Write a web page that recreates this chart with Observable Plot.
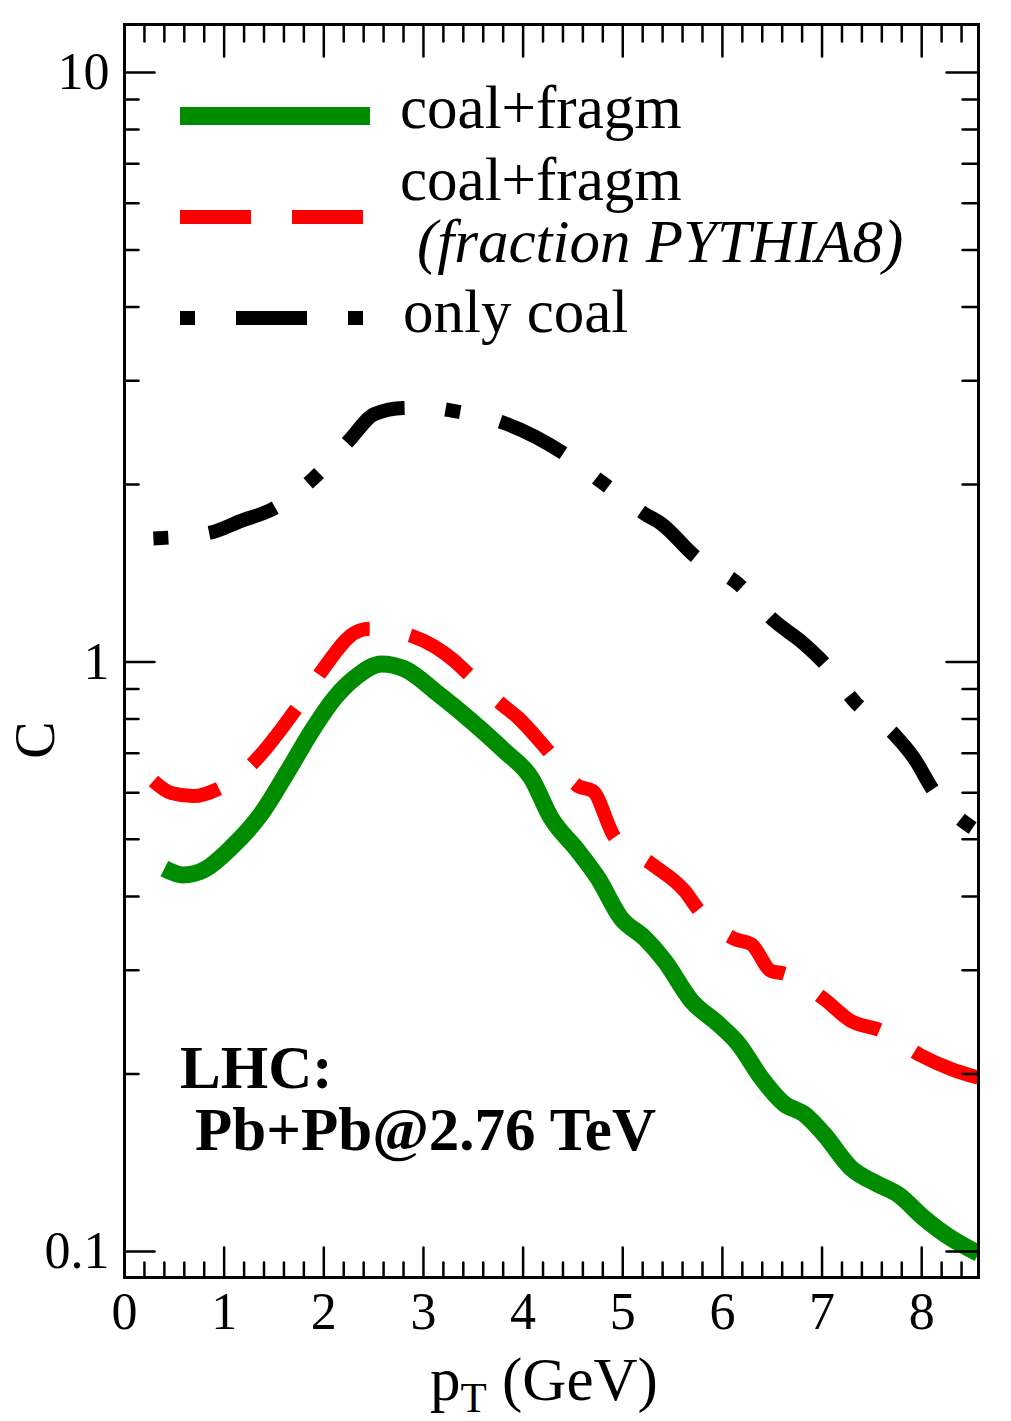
<!DOCTYPE html>
<html><head><meta charset="utf-8">
<script src="https://cdn.jsdelivr.net/npm/d3@7"></script>
<script src="https://cdn.jsdelivr.net/npm/@observablehq/plot@0.6"></script>
<style>
html,body{margin:0;padding:0;background:#fff;}
#chart{width:1011px;height:1421px;}
</style></head><body><div id="chart"></div>
<script>
// coal+fragm (green, solid)
const greenPt = [0.40,0.59,0.80,1.07,1.37,1.64,1.88,2.11,2.31,2.58,2.81,3.15,3.48,3.81,4.08,4.28,4.55,4.75,4.98,5.22,5.42,5.69,5.96,6.16,6.39,6.62,6.82,7.02,7.29,7.56,7.76,8.02,8.29,8.57];
const greenC  = [0.446,0.435,0.444,0.484,0.552,0.653,0.764,0.869,0.939,0.992,0.973,0.882,0.794,0.707,0.636,0.544,0.478,0.430,0.368,0.340,0.311,0.266,0.243,0.225,0.197,0.178,0.171,0.158,0.1385,0.130,0.125,0.114,0.1054,0.0992];
// coal+fragm (fraction PYTHIA8) (red, dashed)
const redPt = [0.29,0.47,0.69,0.94,1.29,1.73,1.98,2.31,2.46,2.88,3.31,3.45,3.78,3.95,4.25,4.55,4.70,4.91,5.29,5.62,5.77,6.12,6.29,6.49,6.62,7.02,7.29,7.59,7.99,8.29,8.57];
const redC  = [0.628,0.599,0.592,0.609,0.674,0.836,0.965,1.120,1.138,1.107,1.004,0.954,0.849,0.804,0.707,0.616,0.604,0.507,0.454,0.409,0.378,0.339,0.332,0.299,0.296,0.268,0.246,0.237,0.215,0.204,0.197];
// only coal (black, dash-dot)
const blackPt = [0.29,0.85,1.17,1.49,1.90,2.25,2.51,2.80,3.05,3.30,3.81,4.40,4.80,5.22,5.39,5.72,6.16,6.52,6.82,7.02,7.34,7.74,7.92,8.12,8.48,8.57];
const blackC  = [1.62,1.655,1.735,1.818,2.051,2.371,2.634,2.697,2.70,2.666,2.543,2.262,2.012,1.783,1.714,1.513,1.356,1.174,1.073,0.996,0.852,0.749,0.688,0.604,0.527,0.515];

const xMajor = [0,1,2,3,4,5,6,7,8];
const xMinor = d3.range(1, 43).map(i => i * 0.2).filter(v => Math.abs(v - Math.round(v)) > 1e-6);
const yMajor = [0.1, 1, 10];
const yMajorLabels = ["0.1", "1", "10"];
const yMinor = [0.2,0.3,0.4,0.5,0.6,0.7,0.8,0.9,2,3,4,5,6,7,8,9];

const series = [
  {name: "coal+fragm", sub: null, pt: greenPt, c: greenC, color: "#008c00", width: 17, dash: null, legendWidth: 18},
  {name: "coal+fragm", sub: "(fraction PYTHIA8)", pt: redPt, c: redC, color: "#ff0000", width: 14, dash: "71,41", legendWidth: 14},
  {name: "only coal", sub: null, pt: blackPt, c: blackC, color: "#000000", width: 14, dash: "15,41,71,41", legendWidth: 14}
];

const tickShape = {draw(ctx, l) { ctx.moveTo(0, 0); ctx.lineTo(0, -l); }};
const tickOpts = {shape: tickShape, anchor: "start", stroke: "black", strokeWidth: 2.5};

const lineMarks = series.map(s => Plot.line(s.pt.map((x, i) => ({x, c: s.c[i]})), {
  x: "x", y: "c", stroke: s.color, strokeWidth: s.width, curve: "monotone-x",
  strokeDasharray: s.dash, strokeLinecap: "butt", strokeLinejoin: "round", clip: true
}));

const chart = Plot.plot({
  width: 1011, height: 1421,
  marginLeft: 124, marginRight: 33, marginTop: 24, marginBottom: 144,
  style: {fontFamily: "'Liberation Serif', 'Times New Roman', serif", background: "white", overflow: "visible", color: "black"},
  x: {domain: [0, 8.57], axis: null},
  y: {type: "log", domain: [0.0903, 12.06], axis: null},
  marks: [
    ...lineMarks,
    Plot.vector(xMajor, {x: d => d, frameAnchor: "bottom", length: 30, rotate: 0, ...tickOpts}),
    Plot.vector(xMinor, {x: d => d, frameAnchor: "bottom", length: 15, rotate: 0, ...tickOpts}),
    Plot.vector(xMajor, {x: d => d, frameAnchor: "top", length: 32, rotate: 180, ...tickOpts}),
    Plot.vector(xMinor, {x: d => d, frameAnchor: "top", length: 17, rotate: 180, ...tickOpts}),
    Plot.vector(yMajor, {y: d => d, frameAnchor: "left", length: 30, rotate: 90, ...tickOpts}),
    Plot.vector(yMinor, {y: d => d, frameAnchor: "left", length: 14, rotate: 90, ...tickOpts}),
    Plot.vector(yMajor, {y: d => d, frameAnchor: "right", length: 32, rotate: -90, ...tickOpts}),
    Plot.vector(yMinor, {y: d => d, frameAnchor: "right", length: 16, rotate: -90, ...tickOpts}),
    Plot.frame({stroke: "black", strokeWidth: 3}),
    Plot.text(xMajor, {x: d => d, frameAnchor: "bottom", lineAnchor: "top", dy: 15, text: d => String(d), fontSize: 52, fill: "black"}),
    Plot.text(yMajor, {y: d => d, frameAnchor: "left", textAnchor: "end", dx: -15, text: (d, i) => yMajorLabels[i], fontSize: 52, fill: "black"})
  ]
});
document.getElementById("chart").appendChild(chart);

// Legend, annotation and axis titles
const svg = d3.select(chart);
const g = svg.append("g")
  .attr("font-family", "'Liberation Serif', 'Times New Roman', serif")
  .attr("fill", "black").attr("text-anchor", "start");

const legendSampleY = [116, 217, 318];
const legendSampleEnd = [370, 364, 364];
series.forEach((s, i) => {
  g.append("line").attr("x1", 180).attr("x2", legendSampleEnd[i])
    .attr("y1", legendSampleY[i]).attr("y2", legendSampleY[i])
    .attr("stroke", s.color).attr("stroke-width", s.legendWidth)
    .attr("stroke-dasharray", s.dash).attr("stroke-linecap", "butt");
});
const legendText = [
  {t: series[0].name, x: 400, y: 128, italic: false},
  {t: series[1].name, x: 400, y: 200, italic: false},
  {t: series[1].sub, x: 417, y: 262, italic: true},
  {t: series[2].name, x: 403, y: 332, italic: false}
];
legendText.forEach(d => {
  g.append("text").attr("x", d.x).attr("y", d.y).attr("font-size", 61).attr("text-anchor", "start")
    .attr("font-style", d.italic ? "italic" : "normal").text(d.t);
});

g.append("text").attr("x", 180).attr("y", 1088).attr("font-size", 61).attr("font-weight", "bold").attr("text-anchor", "start").text("LHC:");
g.append("text").attr("x", 195).attr("y", 1150).attr("font-size", 61).attr("font-weight", "bold").attr("text-anchor", "start").text("Pb+Pb@2.76 TeV");

const xt = g.append("text").attr("x", 430).attr("y", 1400).attr("font-size", 61).attr("text-anchor", "start");
xt.append("tspan").text("p");
xt.append("tspan").attr("font-size", 43).attr("dy", 12).text("T");
xt.append("tspan").attr("dy", -12).text(" (GeV)");

g.append("text").attr("transform", "translate(54,740) rotate(-90)").attr("text-anchor", "middle").attr("font-size", 56).text("C");
</script>
</body></html>
